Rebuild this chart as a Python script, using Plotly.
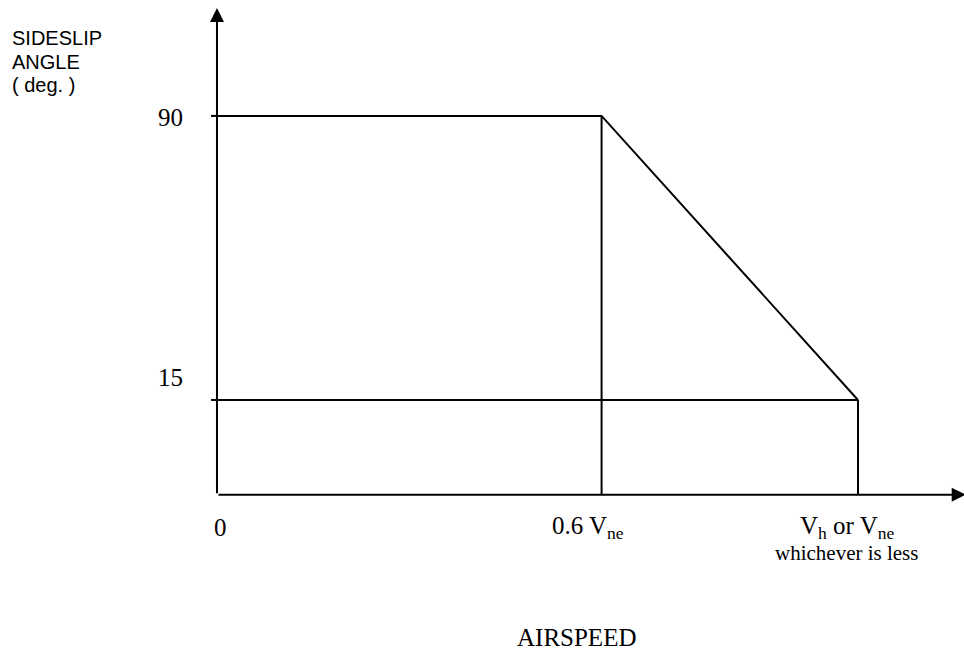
import plotly.graph_objects as go

# airspeed as a fraction of Vh / Vne, limit sideslip angle in degrees
airspeed = [0, 0.6, 1.0]
sideslip_limit = [90, 90, 15]
sideslip_min = 15
speed_labels = ["0", "0.6 V<sub>ne</sub>", "V<sub>h</sub> or V<sub>ne</sub>"]
angle_labels = ["90", "15"]
note = "whichever is less"
y_title = ["SIDESLIP", "ANGLE", "( deg. )"]
x_title = "AIRSPEED"

BASE = -10  # the airspeed axis sits a bit under the 15 deg line in the sketch
SERIF = "Liberation Serif, Times New Roman, serif"
SANS = "Liberation Sans, Arial, sans-serif"
line = dict(color="black", width=2)

fig = go.Figure()
fig.add_trace(go.Scatter(x=airspeed, y=sideslip_limit, mode="lines", line=line))
fig.add_trace(go.Scatter(x=[airspeed[0], airspeed[-1]], y=[sideslip_min] * 2,
                         mode="lines", line=line))
for v, a in zip(airspeed[1:], sideslip_limit[1:]):
    fig.add_trace(go.Scatter(x=[v, v], y=[a, BASE], mode="lines", line=line))

# axes drawn as arrows
arrow = dict(text="", showarrow=True, arrowhead=2, arrowwidth=2, arrowsize=1.4,
             arrowcolor="black", axref="x", ayref="y")
fig.add_annotation(x=0, y=118.5, ax=0, ay=BASE, **arrow)
fig.add_annotation(x=1.168, y=BASE, ax=0, ay=BASE, **arrow)

# little ticks where the horizontal lines meet the vertical axis
for a in [sideslip_limit[0], sideslip_min]:
    fig.add_shape(type="line", xref="x", yref="y", xsizemode="pixel", xanchor=0,
                  x0=-6, x1=0, y0=a, y1=a, line=line)

serif = dict(family=SERIF, size=25, color="black")
fig.add_annotation(x=0, y=sideslip_limit[0], text=angle_labels[0], showarrow=False,
                   xanchor="right", xshift=-32, yshift=-2, font=serif)
fig.add_annotation(x=0, y=sideslip_min, text=angle_labels[1], showarrow=False,
                   xanchor="right", xshift=-32, yshift=22, font=serif)

shifts = [4, -14, -10]
for v, lab, dx in zip(airspeed, speed_labels, shifts):
    fig.add_annotation(x=v, y=BASE, text=lab, showarrow=False, xshift=dx,
                       yshift=-33, font=serif)
fig.add_annotation(x=airspeed[-1], y=BASE, text=note, showarrow=False, xshift=-11,
                   yshift=-58, font=dict(family=SERIF, size=21, color="black"))

fig.add_annotation(xref="paper", yref="paper", x=576 / 964, y=1 - 637 / 656,
                   xanchor="center", yanchor="middle",
                   text=x_title, showarrow=False, font=serif)
for i, t in enumerate(y_title):
    fig.add_annotation(xref="paper", yref="paper", x=10 / 964,
                       y=1 - (38 + 23.5 * i) / 656, text=t, showarrow=False,
                       xanchor="left", yanchor="middle",
                       font=dict(family=SANS, size=20, color="black"))

fig.update_xaxes(range=[-0.3385, 1.1654], visible=False)
fig.update_yaxes(range=[-52.6, 120.6], visible=False)
fig.update_layout(width=964, height=656, margin=dict(l=0, r=0, t=0, b=0),
                  showlegend=False, plot_bgcolor="white", paper_bgcolor="white")

fig.write_html("out.html", config={"displayModeBar": False},
               post_script="document.body.style.margin = '0';")
